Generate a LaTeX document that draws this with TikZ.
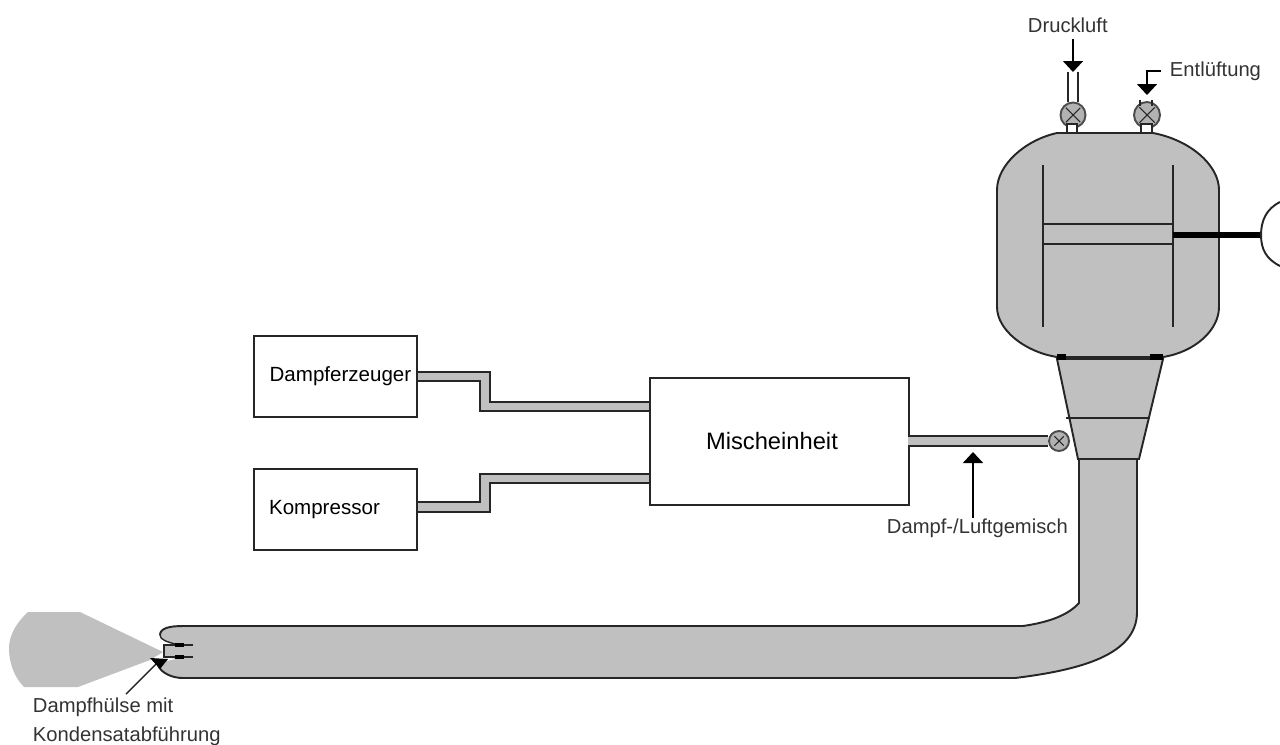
\documentclass[tikz,border=0pt]{standalone}
\usepackage{fontspec}
\setmainfont{Liberation Sans}
\usetikzlibrary{arrows.meta,calc,positioning}
\definecolor{dampfgrau}{HTML}{C0C0C0}
\begin{document}
\begin{tikzpicture}[
  x=0.02cm,y=-0.02cm,
  line width=1.1pt,
  unitbox/.style={rectangle,draw=black!85,fill=white,anchor=north west,inner sep=0pt,font=\fontsize{11.7}{14}\selectfont},
  pipe/.style={draw=black!85,line width=1pt,double=dampfgrau,double distance=7.5pt*0.6},
  wall/.style={draw=black!85,fill=dampfgrau},
  lbl/.style={font=\fontsize{11.5}{14}\selectfont,text=black!80,inner sep=0pt,anchor=west,align=left},
  flow/.style={-{Triangle[length=0.22cm,width=0.4cm]},line width=1pt,black},
  valve/.style={circle,draw=black!70,fill=gray!60,inner sep=0pt,minimum size=#1,
    path picture={\draw[black!85,line width=0.6pt]
      ([shift={(3pt,-3pt)}]path picture bounding box.north west)--([shift={(-3pt,3pt)}]path picture bounding box.south east)
      ([shift={(-3pt,-3pt)}]path picture bounding box.north east)--([shift={(3pt,3pt)}]path picture bounding box.south west);}}
]
\useasboundingbox (0,0) rectangle (1280,744);

% Aggregate
\node[unitbox,minimum width=3.26cm,minimum height=1.62cm] (dampf) at (253,335) {\hspace*{0.2cm}Dampferzeuger};
\node[unitbox,minimum width=3.26cm,minimum height=1.62cm] (komp) at (253,468) {\hspace*{-0.44cm}Kompressor};
\node[unitbox,minimum width=5.18cm,minimum height=2.54cm,font=\fontsize{13.5}{16}\selectfont] (misch) at (649,377) {\hspace*{-0.3cm}Mischeinheit};

% Leitungen
\draw[pipe] (dampf.east) -- ++(67,0) |- ([yshift=0.7cm]misch.west);
\draw[pipe] ([yshift=0.05cm]komp.east) -- ++(67,0) |- ([yshift=-0.74cm]misch.west);

% Dampfschlauch mit Bogen und Huelse
\fill[dampfgrau] (183,626) .. controls (170,626) and (160,628) .. (160,635)
  .. controls (160,640) and (168,642) .. (175,644) -- (164,645) -- (164,657) -- (176,659)
  .. controls (168,661) and (158,662) .. (158,665) .. controls (161,673) and (172,678) .. (183,678)
  -- (1015,678) .. controls (1080,670) and (1137,655) .. (1137,612) -- (1137,459) -- (1079,459) -- (1079,603)
  .. controls (1068,615) and (1050,622) .. (1023,626) -- cycle;
\draw[black!85] (160,635) .. controls (160,628) and (170,626) .. (183,626) -- (1023,626)
  .. controls (1050,622) and (1068,615) .. (1079,603) -- (1079,459);
\draw[black!85] (158,665) .. controls (161,673) and (172,678) .. (183,678) -- (1015,678)
  .. controls (1080,670) and (1137,655) .. (1137,612) -- (1137,459);
\draw[black!85,line width=0.8pt] (160,635) .. controls (160,640) and (168,642) .. (175,644);
\draw[black!85] (193,645) -- (164,645) -- (164,657) -- (193,657);
\draw[black,line width=2pt] (175,645) -- (184,645) (175,657) -- (184,657);

% Dampfwolke
\fill[dampfgrau] (163,652) -- (80,612) -- (28,612)
  .. controls (17,622) and (9,635) .. (9,648) .. controls (9,664) and (15,678) .. (24,687)
  -- (78,687) -- (150,660) -- cycle;

% Konus und Kessel
\draw[wall] (1057,359) -- (1163,359) -- (1139,459) -- (1078,459) -- cycle;
\draw[black!85] (1066,418) -- (1150,418);
\draw[wall] (1057,133) -- (1153,133) .. controls (1190,140) and (1219,165) .. (1219,190) -- (1219,307)
  .. controls (1219,330) and (1195,352) .. (1163,357) -- (1057,357)
  .. controls (1025,352) and (997,330) .. (997,307) -- (997,190)
  .. controls (997,165) and (1025,140) .. (1057,133) -- cycle;
\draw[black!85] (1043,165) -- (1043,327) (1173,165) -- (1173,327);
\draw[black!85] (1043,224) -- (1173,224) (1043,244) -- (1173,244);
\draw[black,line width=3pt] (1057,357) -- (1066,357) (1150,357) -- (1163,357);

% Stange und Rolle
\coordinate (rodstart) at (1173,235);
\coordinate (rodend) at (1261,235);
\draw[black,line width=3pt] (rodstart) -- (rodend);
\draw[black!85] (1280,202) .. controls (1266,209) and (1261,221) .. (rodend) .. controls (1261,249) and (1266,259) .. (1280,266);

% Ventile
\node[valve=0.5cm] (vluft) at (1073,115) {};
\node[valve=0.52cm] (vent) at (1147,115) {};
\node[valve=0.4cm] (vmisch) at (1059,441) {};
\draw[pipe] (908,441) -- (vmisch.west);
\draw[black!85,line width=0.9pt] ([xshift=-0.1cm]vluft.north) -- ++(0,-30) ([xshift=0.1cm]vluft.north) -- ++(0,-30);
\draw[black!85,line width=0.9pt] ([shift={(-0.14cm,-0.1cm)}]vent.north) -- ++(0,-6) ([shift={(0.1cm,-0.1cm)}]vent.north) -- ++(0,-6);
\draw[black!85,fill=white,line width=0.8pt] (1067,124) rectangle (1077,133) (1141,124) rectangle (1152,133);

% Beschriftung
\node[lbl] (ldruck) at (1027,25) {Druckluft};
\node[lbl] (lent) at (1169,71) {Entlüftung};
\node[lbl] (lgem) at (886,528) {Dampf-/Luftgemisch};
\node[lbl] (lhuelse) at (32,707) {Dampfhülse mit};
\node[lbl] (lkond) at (32,736) {Kondensatabführung};

\coordinate (tipdruck) at (1073,72);
\coordinate (tipent) at (1147,95);
\coordinate (tipgem) at (973,452);
\coordinate (tiphuelse) at (157,663);
\draw[flow] ([yshift=-0.12cm]ldruck.south -| tipdruck) -- (tipdruck);
\draw[flow] ([xshift=-0.16cm]lent.west) -- (tipent |- lent.west) -- (tipent);
\draw[flow] (lgem.north -| tipgem) -- (tipgem);
\draw[black!85,line width=0.8pt] (126,694) -- (tiphuelse);
\fill[black] (150,658) -- (168,659) -- (160,669) -- cycle;
\end{tikzpicture}
\end{document}
